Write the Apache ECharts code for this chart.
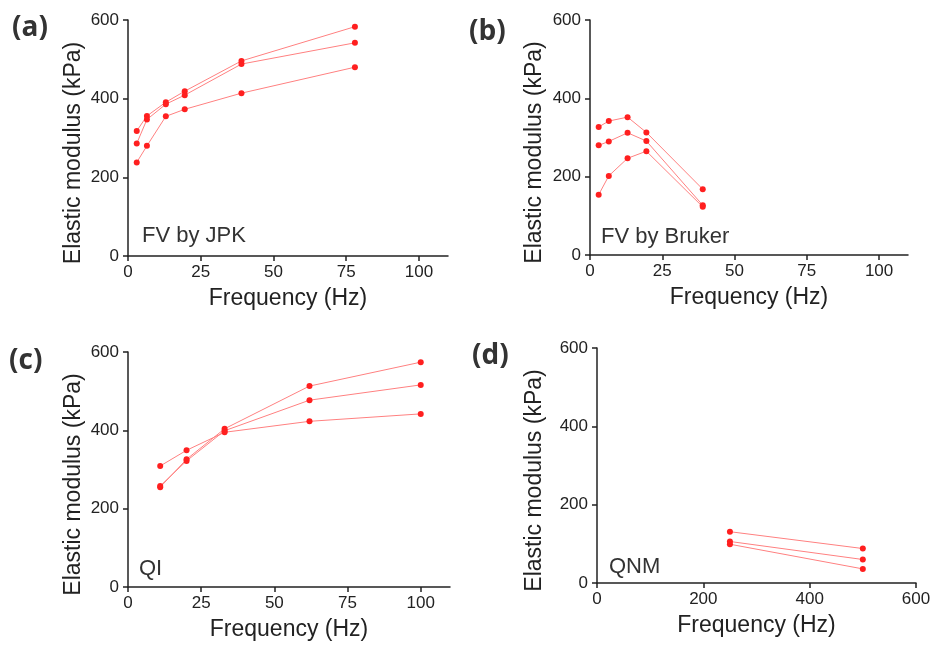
<!DOCTYPE html>
<html>
<head>
<meta charset="UTF-8">
<title>Elastic modulus vs frequency</title>
<script src="https://cdn.jsdelivr.net/npm/echarts@6/dist/echarts.min.js"></script>
<style>
  html, body { margin: 0; padding: 0; background: #fff; }
  #chart { width: 935px; height: 649px; }
</style>
</head>
<body>
<div id="chart"></div>
<script>
// panel (a) FV by JPK
var freqA = [3, 6.5, 13, 19.5, 39, 78];
var a1 = [318, 356, 391, 419, 496, 583];
var a2 = [286, 347, 386, 409, 488, 542];
var a3 = [238, 280, 355, 373, 414, 480];
// panel (b) FV by Bruker
var freqB = [3, 6.5, 13, 19.5, 39];
var b1 = [327, 342, 352, 313, 168];
var b2 = [280, 290, 312, 291, 127];
var b3 = [154, 202, 247, 265, 123];
// panel (c) QI
var freqC = [11, 20, 33, 62, 100];
var c1 = [255, 326, 404, 513, 574];
var c2 = [258, 322, 399, 477, 516];
var c3 = [309, 349, 395, 423, 442];
// panel (d) QNM
var freqD = [250, 500];
var d1 = [131, 88];
var d2 = [106, 60];
var d3 = [99, 36];

var ticksHz = [0, 25, 50, 75, 100];
var ticksD = [0, 200, 400, 600];

var panels = [
  { letter: '(a)', note: 'FV by JPK', freq: freqA, ys: [a1, a2, a3], xmax: 110, xticks: ticksHz },
  { letter: '(b)', note: 'FV by Bruker', freq: freqB, ys: [b1, b2, b3], xmax: 110, xticks: ticksHz },
  { letter: '(c)', note: 'QI', freq: freqC, ys: [c1, c2, c3], xmax: 110, xticks: ticksHz },
  { letter: '(d)', note: 'QNM', freq: freqD, ys: [d1, d2, d3], xmax: 600, xticks: ticksD }
];

var grids = [
  { left: 128, width: 320, top: 20, height: 236 },
  { left: 590, width: 318, top: 20, height: 235 },
  { left: 128, width: 322, top: 352, height: 235 },
  { left: 597, width: 319, top: 348, height: 235 }
];
var yNameGap = [43, 44, 43, 51];
var letterPos = [[12, 14], [469, 18], [9, 347], [472, 342]];
var notePos = [[142, 225], [601, 226], [139, 558], [609, 556]];

var font = '"Liberation Sans", Arial, sans-serif';
var axisCol = '#222';

var chart = echarts.init(document.getElementById('chart'));
var xAxes = [], yAxes = [], series = [], graphics = [];

panels.forEach(function (p, i) {
  xAxes.push({
    type: 'value', gridIndex: i, min: 0, max: p.xmax,
    name: 'Frequency (Hz)', nameLocation: 'middle', nameGap: 31,
    nameTextStyle: { fontFamily: font, fontSize: 23, color: axisCol },
    axisLine: { show: true, lineStyle: { color: axisCol, width: 1.5 } },
    axisTick: { show: true, length: 5, customValues: p.xticks, lineStyle: { color: axisCol, width: 1.5 } },
    axisLabel: { customValues: p.xticks, margin: 8, fontFamily: font, fontSize: 17, color: axisCol },
    splitLine: { show: false }
  });
  yAxes.push({
    type: 'value', gridIndex: i, min: 0, max: 600, interval: 200,
    name: 'Elastic modulus (kPa)', nameLocation: 'middle', nameGap: yNameGap[i],
    nameTextStyle: { fontFamily: font, fontSize: 23, color: axisCol, padding: [0, 30, 0, 0] },
    axisLine: { show: true, lineStyle: { color: axisCol, width: 1.5 } },
    axisTick: { show: true, length: 5, lineStyle: { color: axisCol, width: 1.5 } },
    axisLabel: { margin: 9, fontFamily: font, fontSize: 17, color: axisCol },
    splitLine: { show: false }
  });
  p.ys.forEach(function (vals) {
    series.push({
      type: 'line', xAxisIndex: i, yAxisIndex: i,
      data: p.freq.map(function (f, k) { return [f, vals[k]]; }),
      symbol: 'circle', symbolSize: 6,
      itemStyle: { color: '#ff1f1f' },
      lineStyle: { color: '#ff8080', width: 1 },
      emphasis: { disabled: true },
      animation: false
    });
  });
  graphics.push({
    type: 'text', left: letterPos[i][0], top: letterPos[i][1],
    style: { text: p.letter, font: 'bold 28px "Open Sans", "Noto Sans", sans-serif', fill: '#333' }
  });
  graphics.push({
    type: 'text', left: notePos[i][0], top: notePos[i][1],
    style: { text: p.note, font: '22px ' + font, fill: '#333' }
  });
});

chart.setOption({
  animation: false,
  grid: grids,
  xAxis: xAxes,
  yAxis: yAxes,
  series: series,
  graphic: graphics
});
</script>
</body>
</html>
